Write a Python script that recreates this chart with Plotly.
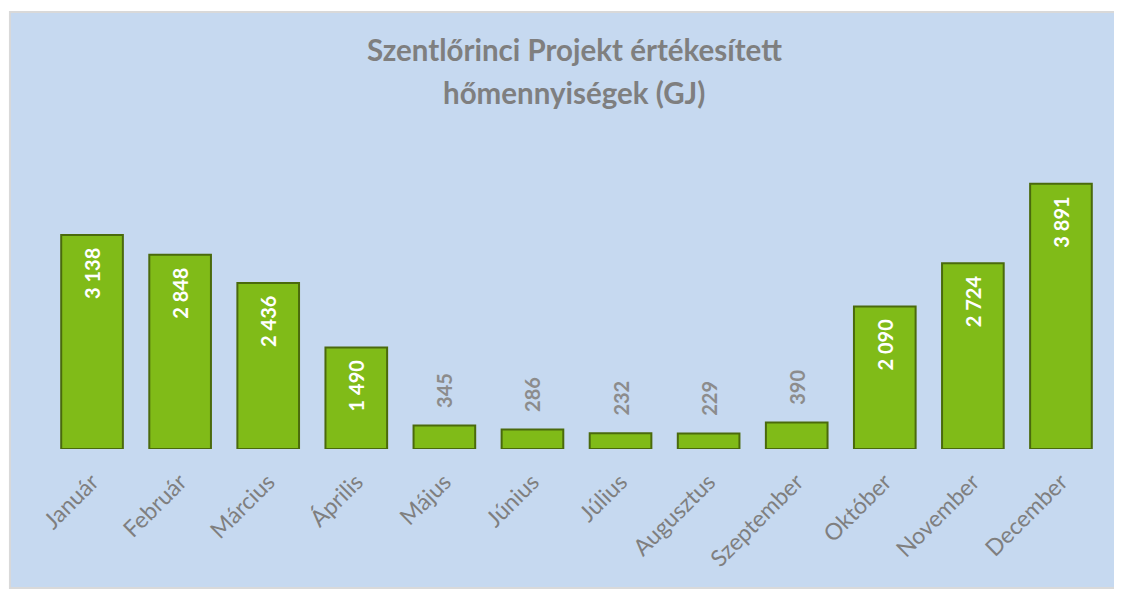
import plotly.graph_objects as go

months = ["Január", "Február", "Március", "Április", "Május", "Június",
          "Július", "Augusztus", "Szeptember", "Október", "November", "December"]
values = [3138, 2848, 2436, 1490, 345, 286, 232, 229, 390, 2090, 2724, 3891]
labels = ["3 138", "2 848", "2 436", "1 490", "345", "286", "232", "229", "390",
          "2 090", "2 724", "3 891"]

NB = "\u00a0"
inside = [v > 1000 for v in values]
positions = ["inside" if f else "outside" for f in inside]
text_colors = ["white" if f else "#8c8c8c" for f in inside]
texts = [(t + NB * 2) if f else (NB * 3 + t) for t, f in zip(labels, inside)]

fig = go.Figure()
fig.add_trace(go.Bar(
    x=months, y=values, text=texts,
    textposition=positions, textangle=-90,
    insidetextanchor="end",
    textfont=dict(family="Lato, Noto Sans, sans-serif", size=20, color=text_colors, weight="bold"),
    marker=dict(color="#80bb18", line=dict(color="#4a6a0c", width=2)),
    cliponaxis=False,
))

fig.add_shape(type="rect", xref="paper", yref="paper",
              x0=-0.036, x1=1.0123, y0=-0.463, y1=1.457,
              fillcolor="#c6d9f0", line=dict(color="#d9d9d9", width=2), layer="below")

title_font = dict(family="Lato, Noto Sans, sans-serif", size=29.5, color="#7f7f7f", weight="bold")
fig.add_annotation(text="Szentlőrinci Projekt értékesített", xref="paper", yref="paper",
                   x=0.498, y=(449 - 50) / 300, xanchor="center", yanchor="middle",
                   showarrow=False, font=title_font)
fig.add_annotation(text="hőmennyiségek (GJ)", xref="paper", yref="paper",
                   x=0.498, y=(449 - 93) / 300, xanchor="center", yanchor="middle",
                   showarrow=False, font=title_font)

fig.update_layout(
    width=1114, height=583,
    paper_bgcolor="white", plot_bgcolor="rgba(0,0,0,0)",
    margin=dict(l=40, r=17, t=141, b=142),
    bargap=0.3,
    showlegend=False,
    xaxis=dict(tickangle=-45, showgrid=False, zeroline=False, showline=False,
               automargin=False, ticklabelstandoff=14,
               tickfont=dict(family="Lato, Noto Sans, sans-serif", size=23, color="#7f7f7f"),
               ticks=""),
    yaxis=dict(range=[0, 4400], visible=False, showgrid=False, automargin=False),
)

fig.write_html("out.html")
